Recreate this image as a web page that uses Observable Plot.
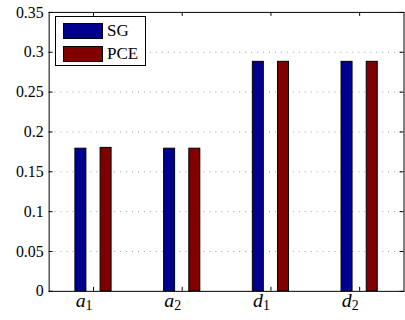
<!DOCTYPE html>
<html><head><meta charset="utf-8">
<script src="https://cdn.jsdelivr.net/npm/d3@7"></script>
<script src="https://cdn.jsdelivr.net/npm/@observablehq/plot@0.6"></script>
<style>
html,body{margin:0;padding:0;background:#fff;overflow:hidden;}
#wrap{position:relative;width:405px;height:320px;overflow:hidden;}
#wrap svg{position:absolute;left:0;top:0;font-family:"Liberation Serif",serif;}
#wrap svg text{font-family:"Liberation Serif",serif !important;font-variant:normal !important;}
#legend{position:absolute;left:55px;top:16px;width:91px;height:50px;box-sizing:border-box;border:1px solid #000;background:#fff;font-family:"Liberation Serif",serif;font-size:17px;color:#000;}
.sw{position:absolute;left:7px;width:40px;height:16px;box-sizing:border-box;border:1px solid #000;}
.lb{position:absolute;left:51px;line-height:16px;}
</style></head><body><div id="wrap"></div>
<script>
const categories = ["a1", "a2", "d1", "d2"];
const seriesNames = ["SG", "PCE"];
const sgValues = [0.179, 0.179, 0.288, 0.288];
const pceValues = [0.180, 0.179, 0.288, 0.288];
const yTicks = [0, 0.05, 0.1, 0.15, 0.2, 0.25, 0.3, 0.35];
const yTickLabels = ["0", "0.05", "0.1", "0.15", "0.2", "0.25", "0.3", "0.35"];
const xTicks = [1, 2, 3, 4];
const colors = ["#00008f", "#800000"];

const W = 408, H = 320, mL = 49, mR = 1.5, mT = 12, mB = 27;
const frameW = W - mL - mR, frameH = H - mT - mB;
const offsets = [-0.142, 0.142];
const halfW = 0.062;
const FONT = '"Liberation Serif", serif';

const table = [];
categories.forEach((c, i) => {
  [sgValues, pceValues].forEach((vals, s) => {
    table.push({cat: c, idx: i + 1, series: seriesNames[s], s, value: vals[i]});
  });
});

const chart = Plot.plot({
  width: W, height: H,
  marginLeft: mL, marginRight: mR, marginTop: mT, marginBottom: mB,
  style: {fontFamily: FONT, color: "#000", background: "#fff", overflow: "visible"},
  x: {domain: [0.5, 4.5], label: null},
  y: {domain: [0, 0.35], label: null},
  color: {domain: seriesNames, range: colors},
  marks: [
    Plot.gridY(yTicks.slice(1, -1), {stroke: "#999", strokeOpacity: 1, strokeDasharray: "1,5"}),
    Plot.rectY(table, {
      x1: d => d.idx + offsets[d.s] - halfW,
      x2: d => d.idx + offsets[d.s] + halfW,
      y1: 0, y2: "value", fill: "series", stroke: "#000", strokeWidth: 1
    }),
    Plot.tickY(yTicks, {y: d => d, insetRight: frameW - 4, stroke: "#000"}),
    Plot.tickY(yTicks, {y: d => d, insetLeft: frameW - 4, stroke: "#000"}),
    Plot.tickX(xTicks, {x: d => d, insetTop: frameH - 4, stroke: "#000"}),
    Plot.tickX(xTicks, {x: d => d, insetBottom: frameH - 4, stroke: "#000"}),
    Plot.frame({stroke: "#000", strokeWidth: 1}),
    Plot.axisY({ticks: yTicks, tickSize: 0, tickPadding: 5.5, fontSize: 16, fontFamily: FONT, label: null,
      tickFormat: d => yTickLabels[yTicks.indexOf(d)]}),
    Plot.axisX({ticks: xTicks, tickSize: 0, tickPadding: 2, fontSize: 20, fontFamily: FONT, label: null,
      textAnchor: "end", dx: -1,
      tickFormat: d => categories[d - 1]})
  ]
});

d3.select(chart).selectAll("text").attr("font-family", FONT).style("font-family", FONT);

d3.select(chart).selectAll('g[aria-label="x-axis tick label"] text').each(function () {
  const t = d3.select(this);
  const s = t.text();
  t.text(null);
  t.append("tspan").attr("font-style", "italic").text(s.charAt(0));
  t.append("tspan").attr("font-size", 14).attr("dy", 3).text(s.slice(1));
});

const wrap = document.getElementById("wrap");
wrap.appendChild(chart);

const legend = document.createElement("div");
legend.id = "legend";
seriesNames.forEach((name, i) => {
  const sw = document.createElement("div");
  sw.className = "sw";
  sw.style.top = (6 + i * 23) + "px";
  sw.style.background = colors[i];
  legend.appendChild(sw);
  const lb = document.createElement("div");
  lb.className = "lb";
  lb.style.top = (6 + i * 23) + "px";
  lb.textContent = name;
  legend.appendChild(lb);
});
wrap.appendChild(legend);
</script></body></html>
